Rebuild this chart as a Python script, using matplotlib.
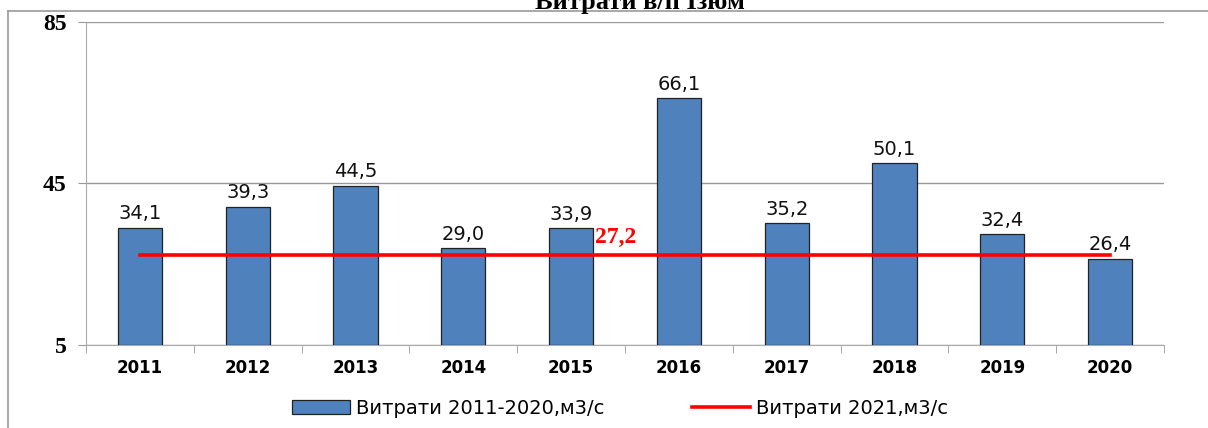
import matplotlib.pyplot as plt
from matplotlib.lines import Line2D

years = ["2011", "2012", "2013", "2014", "2015", "2016", "2017", "2018", "2019", "2020"]
flows = [34.1, 39.3, 44.5, 29.0, 33.9, 66.1, 35.2, 50.1, 32.4, 26.4]
flow2021 = 27.2
yTicks = [5, 45, 85]

barLabel = "Витрати 2011-2020,м3/с"
lineLabel = "Витрати 2021,м3/с"
title = "Витрати в/п Ізюм"

fig = plt.figure(figsize=(12.08, 4.28), dpi=100)
ax = fig.add_axes([86 / 1208, 1 - 345 / 428, (1164 - 86) / 1208, (345 - 22) / 428])

positions = list(range(len(years)))
bars = ax.bar(positions, [v - 5 for v in flows], bottom=5, width=0.41,
              color="#4F81BD", edgecolor="#222222", linewidth=0.9,
              label=barLabel, zorder=3)
line, = ax.plot([positions[0], positions[-1]], [flow2021, flow2021],
                color="#FF0000", linewidth=2.6, label=lineLabel, zorder=4)

for x, v in zip(positions, flows):
    ax.annotate(f"{v:.1f}".replace(".", ","), (x, v), xytext=(0, 3),
                textcoords="offset points", ha="center", va="bottom",
                fontsize=14, color="#111111", zorder=5)

ax.text(4.22, 30.3, f"{flow2021:.1f}".replace(".", ","), color="#FF0000",
        fontsize=17, fontweight="bold", family="Liberation Serif",
        ha="left", va="baseline", zorder=5)

ax.set_xlim(-0.5, len(years) - 0.5)
ax.set_ylim(5, 85)
ax.set_yticks(yTicks)
ax.set_yticklabels([str(t) for t in yTicks], family="Liberation Serif",
                   fontweight="bold", fontsize=17)
ax.set_xticks(positions)
ax.set_xticklabels(years, fontweight="bold", fontsize=12)
ax.tick_params(axis="x", length=0, pad=10)
ax.tick_params(axis="y", length=6, color="#999999", direction="out", pad=8)
ax.set_xticks([p - 0.5 for p in positions] + [len(years) - 0.5], minor=True)
ax.tick_params(axis="x", which="minor", length=6, color="#999999")

ax.grid(axis="y", color="#999999", linewidth=1, zorder=0)
for side in ["top", "right"]:
    ax.spines[side].set_visible(False)
for side in ["left", "bottom"]:
    ax.spines[side].set_color("#AAAAAA")

fig.legend(handles=[bars, line], labels=[barLabel, lineLabel], loc="center",
           bbox_to_anchor=(620 / 1208, 1 - 408 / 428), ncol=2, frameon=False,
           fontsize=14, handlelength=3.0, columnspacing=4.5, handletextpad=0.3)

fig.text(640 / 1208, 1 - 9 / 428, title, ha="center", va="baseline",
         family="Liberation Serif", fontweight="bold", fontsize=19)

# outer chart frame
fig.add_artist(Line2D([8 / 1208, 1], [1 - 11 / 428, 1 - 11 / 428],
                      color="#999999", linewidth=1.2, transform=fig.transFigure))
fig.add_artist(Line2D([8 / 1208, 8 / 1208], [0, 1 - 11 / 428],
                      color="#999999", linewidth=1.2, transform=fig.transFigure))

fig.savefig("out.png", dpi=100)
